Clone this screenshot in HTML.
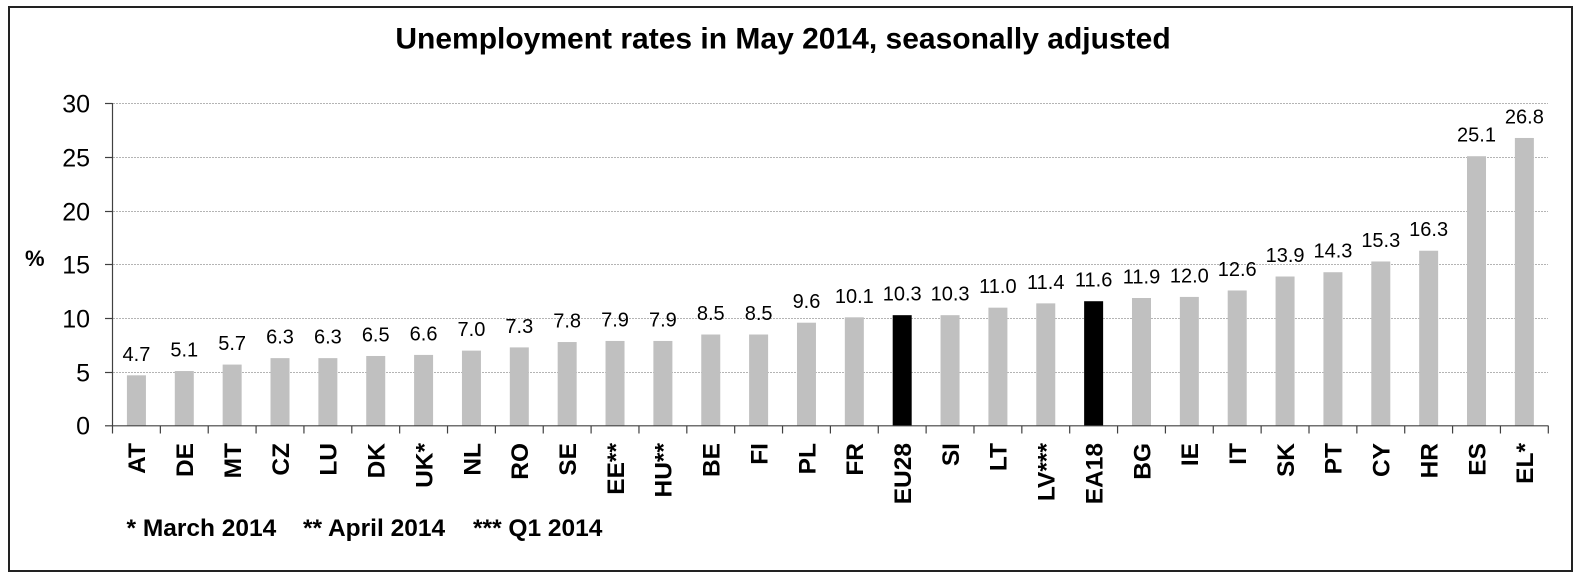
<!DOCTYPE html>
<html>
<head>
<meta charset="utf-8">
<style>
  html, body { margin: 0; padding: 0; background: #fff; }
  svg { display: block; }
  text { font-family: "Liberation Sans", Arial, Helvetica, sans-serif; fill: #000; }
</style>
</head>
<body>
<svg width="1580" height="580" viewBox="0 0 1580 580" xmlns="http://www.w3.org/2000/svg">
  <rect x="0" y="0" width="1580" height="580" fill="#fff"/>
  <rect x="9" y="7" width="1563" height="564" fill="none" stroke="#222" stroke-width="2"/>

  <text x="783" y="48.5" font-size="30" font-weight="bold" text-anchor="middle">Unemployment rates in May 2014, seasonally adjusted</text>

  <!-- gridlines -->
  <g stroke="#b4b4b4" stroke-width="1" stroke-dasharray="2,1">
    <line x1="113" y1="103.5" x2="1548" y2="103.5"/>
    <line x1="113" y1="157.5" x2="1548" y2="157.5"/>
    <line x1="113" y1="211.5" x2="1548" y2="211.5"/>
    <line x1="113" y1="264.5" x2="1548" y2="264.5"/>
    <line x1="113" y1="318.5" x2="1548" y2="318.5"/>
    <line x1="113" y1="372.5" x2="1548" y2="372.5"/>
  </g>

  <!-- y tick labels -->
  <g font-size="25" text-anchor="end">
    <text x="90" y="112.5">30</text>
    <text x="90" y="166.5">25</text>
    <text x="90" y="220.5">20</text>
    <text x="90" y="273.5">15</text>
    <text x="90" y="327.5">10</text>
    <text x="90" y="381.5">5</text>
    <text x="90" y="434.5">0</text>
  </g>
  <text x="25" y="266" font-size="22" font-weight="bold">%</text>

  <g id="bars"></g>

  <!-- axes -->
  <g stroke="#404040" stroke-width="1.2">
    <line x1="112.5" y1="103" x2="112.5" y2="426"/>
    <line x1="112" y1="425.8" x2="1548.5" y2="425.8"/>
    <line x1="105" y1="103.5" x2="112.5" y2="103.5"/>
    <line x1="105" y1="157.5" x2="112.5" y2="157.5"/>
    <line x1="105" y1="211.5" x2="112.5" y2="211.5"/>
    <line x1="105" y1="264.5" x2="112.5" y2="264.5"/>
    <line x1="105" y1="318.5" x2="112.5" y2="318.5"/>
    <line x1="105" y1="372.5" x2="112.5" y2="372.5"/>
    <line x1="105" y1="425.8" x2="112.5" y2="425.8"/>
  </g>
  <g id="xticks" stroke="#404040" stroke-width="1.2"></g>
  <g id="labels"></g>

  <!-- footnotes -->
  <g font-size="24.5" font-weight="bold">
    <text x="126.5" y="536">* March 2014</text>
    <text x="303" y="536">** April 2014</text>
    <text x="473" y="536">*** Q1 2014</text>
  </g>
</svg>
<script>
(function(){
  var ns="http://www.w3.org/2000/svg";
  var data=[["AT",4.7],["DE",5.1],["MT",5.7],["CZ",6.3],["LU",6.3],["DK",6.5],["UK*",6.6],["NL",7.0],["RO",7.3],["SE",7.8],["EE**",7.9],["HU**",7.9],["BE",8.5],["FI",8.5],["PL",9.6],["FR",10.1],["EU28",10.3],["SI",10.3],["LT",11.0],["LV***",11.4],["EA18",11.6],["BG",11.9],["IE",12.0],["IT",12.6],["SK",13.9],["PT",14.3],["CY",15.3],["HR",16.3],["ES",25.1],["EL*",26.8]];
  var x0=112.5,x1=1548.3,n=data.length,w=(x1-x0)/n,y0=425.8,k=10.74;
  var bars=document.getElementById("bars"),labels=document.getElementById("labels"),ticks=document.getElementById("xticks");
  function el(t,a,p,txt){var e=document.createElementNS(ns,t);for(var q in a)e.setAttribute(q,a[q]);if(txt!=null)e.textContent=txt;p.appendChild(e);return e;}
  for(var i=0;i<=n;i++){var tx=x0+w*i;el("line",{x1:tx,y1:425.8,x2:tx,y2:433.5},ticks);}
  data.forEach(function(d,i){
    var cx=x0+w*(i+0.5),top=y0-d[1]*k;
    var black=(d[0]==="EU28"||d[0]==="EA18");
    el("rect",{x:cx-9.5,y:top,width:19,height:y0-top,fill:black?"#000":"#c0c0c0"},bars);
    el("text",{x:cx,y:top-14.5,"font-size":"20","text-anchor":"middle"},labels,d[1].toFixed(1));
    el("text",{x:0,y:0,"font-size":"24.5","font-weight":"bold","text-anchor":"end",transform:"translate("+(cx+8.8)+",443) rotate(-90)"},labels,d[0]);
  });
})();
</script>
</body>
</html>
